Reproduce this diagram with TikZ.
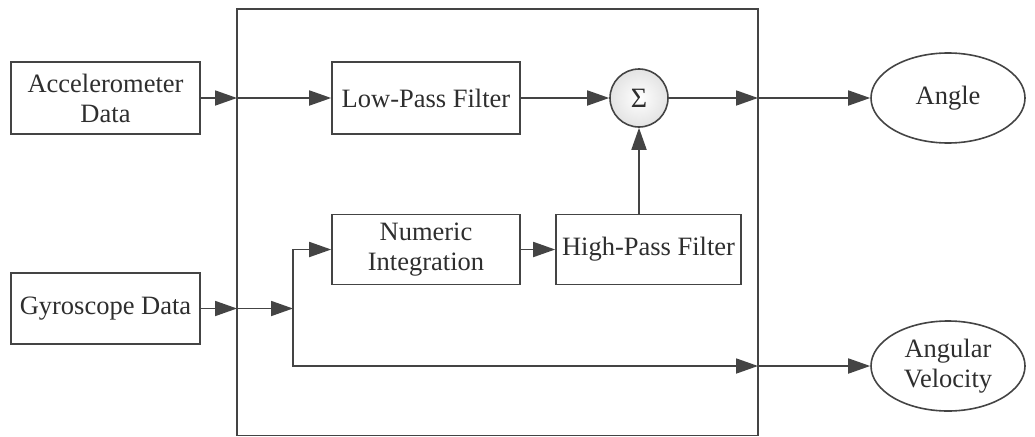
\documentclass[tikz,border=0pt]{standalone}
\usepackage{fontspec}
\setmainfont{Liberation Serif}
\newfontfamily\tnr{Liberation Serif}
\usetikzlibrary{arrows.meta,shapes.geometric}
\definecolor{ln}{HTML}{444444}
\definecolor{tx}{HTML}{2E2E2E}
\begin{document}
\begin{tikzpicture}[x=1pt,y=-1pt,
  every node/.style={font=\tnr\fontsize{26.5}{30}\selectfont, text=tx, align=center, inner sep=0pt},
  blk/.style={draw=ln, line width=1.6pt, rectangle},
  oval/.style={draw=ln, line width=1.6pt, ellipse, minimum width=154pt, minimum height=90pt},
  arr/.style={draw=ln, line width=1.8pt, -{Triangle[length=22pt,width=15pt]}},
  ln/.style={draw=ln, line width=1.8pt}]
\useasboundingbox (0,0) rectangle (1035,436);
\draw[ln] (237,9) rectangle (758,435.5);
\node[blk, minimum width=189pt, minimum height=72pt] (acc) at (105.5,98) {Accelerometer\\Data};
\node[blk, minimum width=188pt, minimum height=72pt] (lpf) at (426,98) {Low-Pass Filter};
\node[draw=ln, line width=1.6pt, circle, minimum size=58pt, shading=radial, inner color=white, outer color=gray!22, font=\tnr\fontsize{28}{30}\selectfont] (sig) at (639,98) {Σ};
\node[oval] (angle) at (948,98) {Angle};
\node[blk, minimum width=188pt, minimum height=70pt] (ni) at (426,249.5) {Numeric\\Integration};
\node[blk, minimum width=185pt, minimum height=70pt] (hpf) at (648.5,249.5) {High-Pass Filter};
\node[blk, minimum width=189pt, minimum height=71pt] (gyro) at (105.5,308.5) {Gyroscope Data};
\node[oval] (av) at (948,366) {Angular\\Velocity};
\coordinate (inA) at (237,98);
\coordinate (outA) at (758,98);
\coordinate (inG) at (237,308.5);
\coordinate (split) at (293,308.5);
\coordinate (outV) at (758,366);
\draw[arr] (acc) -- (inA);
\draw[arr] (inA) -- (lpf);
\draw[arr] (lpf) -- (sig);
\draw[arr] (sig) -- (outA);
\draw[arr] (outA) -- (angle);
\draw[arr] (hpf.north -| sig) -- (sig.south);
\draw[arr] (ni) -- (hpf);
\draw[arr] (gyro) -- (inG);
\draw[arr] (inG) -- (split);
\draw[arr] (split) |- (ni.west);
\draw[arr] (split) |- (outV);
\draw[arr] (outV) -- (av);
\end{tikzpicture}
\end{document}
